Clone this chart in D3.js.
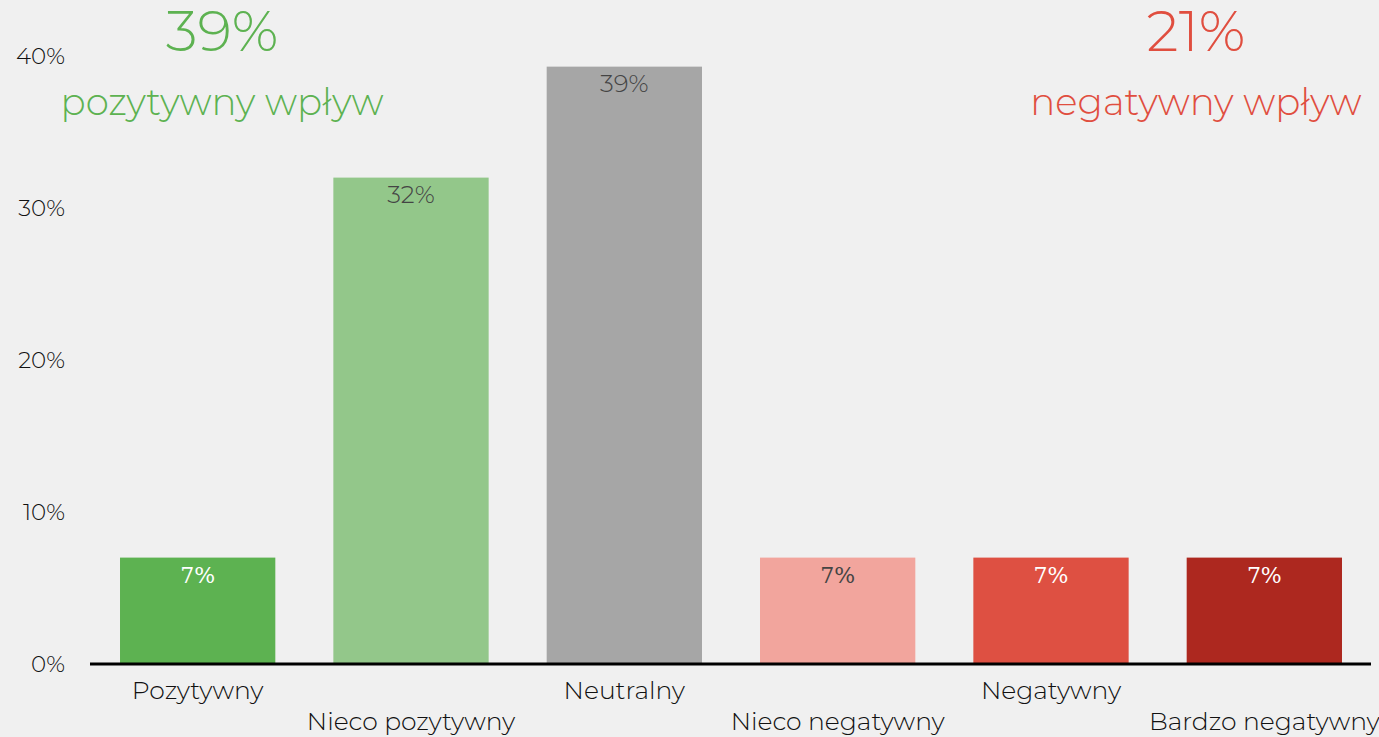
<!DOCTYPE html>
<html><head><meta charset="utf-8">
<script src="https://cdn.jsdelivr.net/npm/d3@7"></script>
<style>
html,body{margin:0;padding:0;background:#f0f0f0;}
svg{display:block;font-family:Montserrat,"Noto Sans","Open Sans",sans-serif;}
</style></head>
<body><svg id="chart" width="1379" height="737"></svg>
<script>
const categories = ["Pozytywny","Nieco pozytywny","Neutralny","Nieco negatywny","Negatywny","Bardzo negatywny"];
const values = [7, 32, 39.3, 7, 7, 7];
const valueLabels = ["7%","32%","39%","7%","7%","7%"];
const barColors = ["#5db251","#93c78a","#a6a6a6","#f2a59d","#de5042","#ad281f"];
const labelColors = ["#ffffff","#444444","#444444","#444444","#ffffff","#ffffff"];
const yTicks = [0, 10, 20, 30, 40];
const summaryValues = ["39%","21%"];
const summaryLabels = ["pozytywny wpływ","negatywny wpływ"];
const summaryColors = ["#5db251","#e04e3f"];

const svg = d3.select("#chart");
const x = d3.scaleBand().domain(categories).range([91, 1371]).paddingInner(0.272).paddingOuter(0.136);
const y = d3.scaleLinear().domain([0, 40]).range([664, 56]);

// y tick labels
svg.append("g").selectAll("text").data(yTicks).join("text")
  .attr("x", 65).attr("y", d => y(d)).attr("dy", "0.35em")
  .attr("text-anchor", "end").attr("font-size", 23).attr("fill", "#111")
  .attr("font-weight", 300)
  .text(d => d + "%");

// bars
svg.append("g").selectAll("rect").data(values).join("rect")
  .attr("x", (d, i) => x(categories[i])).attr("width", x.bandwidth())
  .attr("y", d => y(d)).attr("height", d => y(0) - y(d))
  .attr("fill", (d, i) => barColors[i]);

// value labels
svg.append("g").selectAll("text").data(values).join("text")
  .attr("x", (d, i) => x(categories[i]) + x.bandwidth() / 2)
  .attr("y", d => y(d) + 25)
  .attr("text-anchor", "middle")
  .style("font-size", (d, i) => (valueLabels[i] === "7%" ? 22 : 24.5) + "px")
  .style("font-family", (d, i) => valueLabels[i] === "7%" ? "'DejaVu Serif','Liberation Serif',serif" : "Montserrat,'Noto Sans',sans-serif")
  .style("font-weight", (d, i) => valueLabels[i] === "7%" ? 400 : 300)
  .attr("fill", (d, i) => labelColors[i])
  .text((d, i) => valueLabels[i]);

// axis baseline
svg.append("line").attr("x1", 90).attr("x2", 1371).attr("y1", y(0)).attr("y2", y(0))
  .attr("stroke", "#000").attr("stroke-width", 3);

// category labels (staggered)
svg.append("g").selectAll("text").data(categories).join("text")
  .attr("x", d => x(d) + x.bandwidth() / 2)
  .attr("y", (d, i) => i % 2 === 0 ? 699 : 730)
  .attr("text-anchor", "middle").attr("font-size", 25).attr("fill", "#111")
  .attr("font-weight", 300)
  .text(d => d);

// summary headers
const centers = [222, 1196];
svg.append("g").selectAll("text").data(summaryValues).join("text")
  .attr("x", (d, i) => centers[i]).attr("y", 51)
  .attr("text-anchor", "middle").attr("font-size", 57).attr("font-weight", 300)
  .attr("fill", (d, i) => summaryColors[i]).text(d => d);
svg.append("g").selectAll("text").data(summaryLabels).join("text")
  .attr("x", (d, i) => centers[i]).attr("y", 115)
  .attr("text-anchor", "middle").attr("font-size", 37.2).attr("font-weight", 300)
  .attr("fill", (d, i) => summaryColors[i]).text(d => d);
</script></body></html>
